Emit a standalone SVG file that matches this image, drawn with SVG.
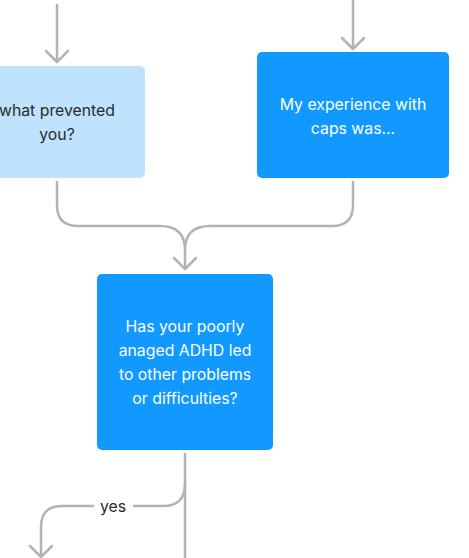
<svg xmlns="http://www.w3.org/2000/svg" width="469" height="558" viewBox="0 0 469 558">
<style>
.edge{fill:none;stroke:#B3B3B3;stroke-width:2.5;stroke-linecap:round;stroke-linejoin:round}
.t{font-family:Inter,"Noto Sans","Liberation Sans",sans-serif;font-size:15.8px;text-anchor:middle}
.w{fill:#FFFFFF}
.d{fill:#2B2B2B}
</style>
<rect width="469" height="558" fill="#FFFFFF"/>
<g id="connectors">
<path class="edge" d="M57,5 V61 M46,51 L57,62 L68,51"/>
<path class="edge" d="M353,0 V48 M342,38 L353,49 L364,38"/>
<path class="edge" d="M57,182 V205 Q57,226 78,226 H160 Q185,226 185,250 V268"/>
<path class="edge" d="M353,182 V205 Q353,226 332,226 H210 Q185,226 185,250"/>
<path class="edge" d="M174,258 L185,269 L196,258"/>
<path class="edge" d="M185,454 V558"/>
<path class="edge" d="M185,484 Q185,506 163,506 H134"/>
<path class="edge" d="M93,506 H62 Q41,506 41,527 V556 M30,546 L41,557 L52,546"/>
<text class="t d" x="113" y="511.5">yes</text>
</g>
<g id="node-prevented">
<rect x="-31" y="66" width="176" height="112" rx="5" fill="#BFE3FD"/>
<text class="t d" x="57" y="116">what prevented</text>
<text class="t d" x="57" y="140">you?</text>
</g>
<g id="node-caps">
<rect x="257" y="52" width="192" height="126" rx="5" fill="#1199FF"/>
<text class="t w" x="353" y="109.5">My experience with</text>
<text class="t w" x="353" y="133.5">caps was...</text>
</g>
<g id="node-adhd">
<rect x="97" y="274" width="176" height="176" rx="5" fill="#1199FF"/>
<text class="t w" x="185" y="332">Has your poorly</text>
<text class="t w" x="185" y="356">anaged ADHD led</text>
<text class="t w" x="185" y="380">to other problems</text>
<text class="t w" x="185" y="404">or difficulties?</text>
</g>
</svg>
